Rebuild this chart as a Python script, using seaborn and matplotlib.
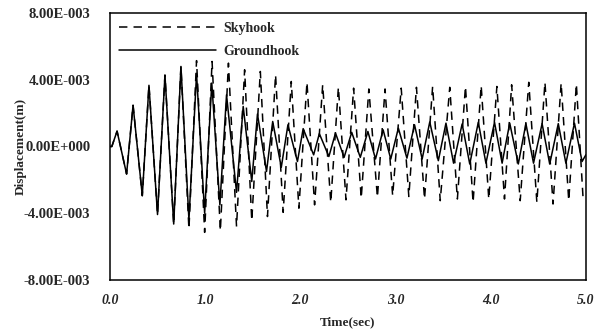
import numpy as np
import pandas as pd
import matplotlib
matplotlib.use('Agg')
import matplotlib.pyplot as plt
import seaborn as sns
from matplotlib.ticker import MultipleLocator

# Extrema (time in s, displacement in 1e-3 m)
sky_time = [0.0, 0.02, 0.075, 0.175, 0.243, 0.34, 0.41, 0.50, 0.578, 0.67, 0.746, 0.83, 0.91,
            0.995, 1.073, 1.16, 1.245, 1.33, 1.415, 1.49, 1.58, 1.655, 1.74, 1.82, 1.905, 1.985,
            2.07, 2.15, 2.235, 2.32, 2.40, 2.48, 2.56, 2.64, 2.72, 2.81, 2.89, 2.97, 3.06, 3.14,
            3.22, 3.305, 3.39, 3.47, 3.57, 3.65, 3.735, 3.815, 3.90, 3.98, 4.065, 4.145, 4.22,
            4.31, 4.40, 4.485, 4.57, 4.655, 4.74, 4.82, 4.90, 4.97, 5.0]
sky_disp = [0.0, 0.0, 0.92, -1.65, 2.47, -2.95, 3.67, -4.08, 4.28, -4.65, 4.8, -4.95, 5.15,
            -5.15, 5.1, -5.06, 5.0, -4.8, 4.6, -4.45, 4.5, -4.2, 4.3, -3.95, 3.9, -3.7,
            3.85, -3.5, 3.7, -3.35, 3.55, -3.2, 3.5, -3.1, 3.45, -3.05, 3.45, -2.95, 3.5, -3.0,
            3.55, -3.15, 3.6, -3.25, 3.55, -3.15, 3.6, -3.35, 3.65, -3.15, 3.6, -3.15, 3.7,
            -3.25, 3.85, -3.35, 3.85, -3.45, 3.8, -3.25, 3.75, -3.05, -2.9]

ground_time = [0.0, 0.02, 0.075, 0.175, 0.243, 0.34, 0.41, 0.50, 0.578, 0.67, 0.746, 0.83, 0.91,
               0.995, 1.07, 1.155, 1.225, 1.33, 1.40, 1.49, 1.55, 1.645, 1.71, 1.80, 1.87, 1.97,
               2.03, 2.14, 2.20, 2.30, 2.37, 2.46, 2.54, 2.63, 2.71, 2.79, 2.87, 2.95, 3.03, 3.12,
               3.20, 3.28, 3.36, 3.45, 3.53, 3.61, 3.70, 3.78, 3.87, 3.95, 4.04, 4.12, 4.20,
               4.29, 4.37, 4.45, 4.54, 4.62, 4.71, 4.79, 4.88, 4.96, 5.0]
ground_disp = [0.0, 0.0, 0.92, -1.65, 2.47, -2.95, 3.67, -4.08, 4.28, -4.65, 4.8, -4.4, 4.35,
               -4.0, 3.8, -3.5, 3.1, -2.75, 2.4, -2.1, 1.95, -1.5, 1.5, -1.25, 1.3, -0.9,
               1.07, -0.5, 0.77, -0.6, 0.8, -0.65, 0.85, -0.65, 0.9, -0.75, 1.0, -0.75, 1.1, -0.7,
               1.3, -0.75, 1.47, -0.85, 1.4, -1.0, 1.35, -1.05, 1.45, -1.0, 1.45, -1.0, 1.4,
               -1.05, 1.37, -1.0, 1.37, -1.05, 1.37, -1.0, 1.4, -0.9, -0.5]

y_ticks = [-8e-3, -4e-3, 0.0, 4e-3, 8e-3]
y_tick_labels = ['-8.00E-003', '-4.00E-003', '0.00E+000', '4.00E-003', '8.00E-003']
x_ticks = [0, 1, 2, 3, 4, 5]
x_tick_labels = ['0.0', '1.0', '2.0', '3.0', '4.0', '5.0']

sky = pd.DataFrame({'Time': sky_time, 'Disp': np.array(sky_disp) * 1e-3})
ground = pd.DataFrame({'Time': ground_time, 'Disp': np.array(ground_disp) * 1e-3})

sns.set_style('white')
plt.rcParams['font.family'] = ['Liberation Serif', 'DejaVu Serif']

fig = plt.figure(figsize=(6.04, 3.36), dpi=100)
ax = fig.add_axes([0.182, 0.167, 0.788, 0.794])

dash = [5.5, 4]
sns.lineplot(data=sky, x='Time', y='Disp', ax=ax, color='black', linewidth=1.1,
             label='Skyhook')
ax.lines[-1].set_dashes(dash)
sns.lineplot(data=ground, x='Time', y='Disp', ax=ax, color='black', linewidth=1.1,
             label='Groundhook')

ax.set_xlim(0, 5)
ax.set_ylim(-8e-3, 8e-3)
ax.set_xticks(x_ticks)
ax.set_xticklabels(x_tick_labels, fontweight='bold', fontstyle='italic', fontsize=10)
ax.set_yticks(y_ticks)
ax.set_yticklabels(y_tick_labels, fontweight='bold', fontsize=10.5)
ax.xaxis.set_minor_locator(MultipleLocator(0.5))
ax.yaxis.set_minor_locator(MultipleLocator(2e-3))
ax.tick_params(which='major', direction='out', length=3, width=1, color='black')
ax.tick_params(axis='y', which='major', pad=11)
ax.tick_params(which='minor', direction='in', length=3, width=1, color='black')
ax.tick_params(axis='x', which='major', length=5, pad=5)
ax.set_xlabel('Time(sec)', fontweight='bold', fontsize=9.5)
ax.set_ylabel('Displacement(m)', fontweight='bold', fontsize=9.5)
ax.xaxis.set_label_coords(0.5, -0.135)
ax.yaxis.set_label_coords(-0.175, 0.5)

for s in ax.spines.values():
    s.set_color('black')
    s.set_linewidth(1.1)

leg = ax.legend(loc='upper left', frameon=False, handlelength=7.0,
                prop={'weight': 'bold', 'size': 10}, borderaxespad=0.25, labelspacing=0.7,
                handletextpad=0.5)
leg.get_lines()[0].set_dashes(dash)

fig.savefig('out.png', dpi=100)
